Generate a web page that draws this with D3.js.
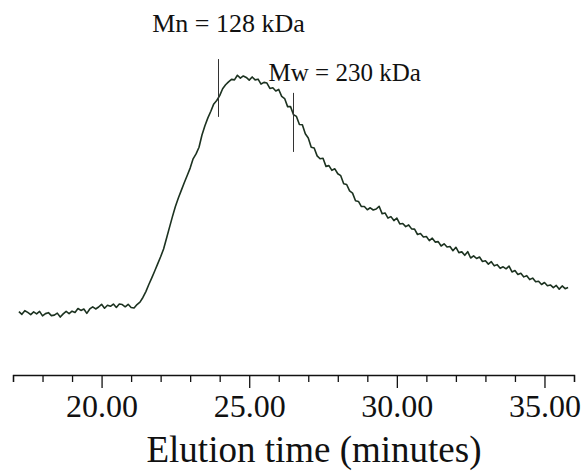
<!DOCTYPE html>
<html>
<head>
<meta charset="utf-8">
<script src="https://cdn.jsdelivr.net/npm/d3@7"></script>
<style>
  body { margin: 0; background: #fff; }
  svg { display: block; }
  text { font-family: "Liberation Serif", "DejaVu Serif", serif; fill: #111; }
</style>
</head>
<body>
<div id="container"></div>
<script>
// elution time (minutes), one reading every 0.1 min
let elutionTime = [
  17.2, 17.3, 17.4, 17.5, 17.6, 17.7, 17.8, 17.9, 18.0, 18.1, 18.2, 18.3, 18.4, 18.5, 18.6, 18.7, 18.8, 18.9,
  19.0, 19.1, 19.2, 19.3, 19.4, 19.5, 19.6, 19.7, 19.8, 19.9, 20.0, 20.1, 20.2, 20.3, 20.4, 20.5, 20.6, 20.7, 20.8, 20.9,
  21.0, 21.1, 21.2, 21.3, 21.4, 21.5, 21.6, 21.7, 21.8, 21.9, 22.0, 22.1, 22.2, 22.3, 22.4, 22.5, 22.6, 22.7, 22.8, 22.9,
  23.0, 23.1, 23.2, 23.3, 23.4, 23.5, 23.6, 23.7, 23.8, 23.9, 24.0, 24.1, 24.2, 24.3, 24.4, 24.5, 24.6, 24.7, 24.8, 24.9,
  25.0, 25.1, 25.2, 25.3, 25.4, 25.5, 25.6, 25.7, 25.8, 25.9, 26.0, 26.1, 26.2, 26.3, 26.4, 26.5, 26.6, 26.7, 26.8, 26.9,
  27.0, 27.1, 27.2, 27.3, 27.4, 27.5, 27.6, 27.7, 27.8, 27.9, 28.0, 28.1, 28.2, 28.3, 28.4, 28.5, 28.6, 28.7, 28.8, 28.9,
  29.0, 29.1, 29.2, 29.3, 29.4, 29.5, 29.6, 29.7, 29.8, 29.9, 30.0, 30.1, 30.2, 30.3, 30.4, 30.5, 30.6, 30.7, 30.8, 30.9,
  31.0, 31.1, 31.2, 31.3, 31.4, 31.5, 31.6, 31.7, 31.8, 31.9, 32.0, 32.1, 32.2, 32.3, 32.4, 32.5, 32.6, 32.7, 32.8, 32.9,
  33.0, 33.1, 33.2, 33.3, 33.4, 33.5, 33.6, 33.7, 33.8, 33.9, 34.0, 34.1, 34.2, 34.3, 34.4, 34.5, 34.6, 34.7, 34.8, 34.9,
  35.0, 35.1, 35.2, 35.3, 35.4, 35.5, 35.6, 35.7, 35.8
];

// detector response (relative, peak ~100)
let response = [
  3.4, 2.3, 3.8, 3.1, 2.2, 3.3, 2.5, 3.5, 1.7, 2.6, 3.0, 1.8, 2.0, 2.8, 1.2, 2.5, 3.5, 2.6,
  3.6, 3.1, 4.7, 3.9, 4.5, 2.7, 4.5, 5.4, 4.5, 5.3, 6.4, 4.8, 6.0, 5.6, 6.5, 5.1, 6.5, 6.3, 5.4, 6.4,
  5.1, 4.9, 6.3, 7.3, 9.2, 11.6, 14.5, 17.2, 20.0, 22.9, 25.8, 29.0, 33.4, 37.8, 42.2, 46.3, 49.8, 52.9, 56.0, 59.0,
  62.0, 65.8, 67.8, 70.5, 75.5, 79.3, 82.5, 85.2, 88.2, 89.6, 91.6, 94.4, 96.0, 97.2, 98.2, 98.0, 99.9, 98.7, 99.6, 99.0,
  97.9, 99.2, 98.0, 98.3, 96.3, 97.0, 96.7, 94.5, 94.8, 93.5, 94.1, 91.3, 90.4, 87.1, 87.1, 83.8, 83.1, 79.8, 79.7, 76.0,
  74.3, 70.5, 70.2, 67.0, 65.8, 66.0, 62.7, 63.0, 61.1, 61.7, 59.7, 58.9, 55.6, 55.3, 52.7, 51.8, 48.7, 48.4, 46.3, 46.3,
  45.0, 45.8, 44.9, 45.3, 46.4, 43.4, 43.7, 41.6, 42.2, 40.6, 41.6, 39.2, 39.4, 38.1, 38.8, 37.2, 37.1, 34.9, 35.3, 33.9,
  34.1, 32.4, 33.4, 31.8, 32.0, 30.2, 31.1, 29.8, 30.0, 28.3, 29.7, 27.5, 27.8, 26.4, 27.9, 25.3, 26.2, 25.1, 25.7, 23.9,
  24.2, 22.8, 23.8, 22.1, 22.6, 21.1, 21.7, 20.9, 22.0, 19.6, 20.2, 18.6, 19.1, 17.6, 18.1, 16.5, 17.1, 15.6, 15.8, 14.5,
  15.3, 14.0, 14.3, 13.2, 14.1, 12.6, 13.9, 12.8, 13.3
];

let majorTicks = [20, 25, 30, 35];
let minorTicks = [17, 18, 19, 21, 22, 23, 24, 26, 27, 28, 29, 31, 32, 33, 34, 36];

let markerLabels = ["Mn = 128 kDa", "Mw = 230 kDa"];
let markerTimes = [23.96, 26.5];

let w = 584;
let h = 472;

let viz = d3.select("#container")
  .append("svg")
    .attr("width", w)
    .attr("height", h)
;

let xScale = d3.scaleLinear().domain([17, 36]).range([13, 574]);
let yScale = d3.scaleLinear().domain([0, 100]).range([320, 75]);
let axisY = 375;

let data = elutionTime.map(function(t, i){
  return { time: t, value: response[i] };
});

// minor ticks first, then majors with labels
let minorAxis = d3.axisBottom(xScale)
  .tickValues(minorTicks)
  .tickSize(7)
  .tickSizeOuter(7)
  .tickFormat("")
;
let minorGroup = viz.append("g")
    .attr("transform", "translate(0," + axisY + ")")
    .call(minorAxis)
;

let majorAxis = d3.axisBottom(xScale)
  .tickValues(majorTicks)
  .tickSize(13)
  .tickSizeOuter(0)
  .tickFormat(d3.format(".2f"))
;
let majorGroup = viz.append("g")
    .attr("transform", "translate(0," + axisY + ")")
    .call(majorAxis)
;
majorGroup.select(".domain").remove();

viz.selectAll(".domain, .tick line")
  .attr("stroke", "#111")
  .attr("stroke-width", 1.3)
;
majorGroup.selectAll(".tick text")
  .attr("y", 42)
  .attr("dy", 0)
  .style("font-family", "'Liberation Serif', serif")
  .style("font-size", "32px")
  .attr("fill", "#111")
;

viz.append("text")
  .attr("x", 314)
  .attr("y", 462)
  .attr("text-anchor", "middle")
  .style("font-size", "37px")
  .text("Elution time (minutes)")
;

// the trace
let lineMaker = d3.line()
  .x(function(d){ return xScale(d.time); })
  .y(function(d){ return yScale(d.value); })
;
viz.append("path")
  .datum(data)
  .attr("d", lineMaker)
  .attr("fill", "none")
  .attr("stroke", "#1c3220")
  .attr("stroke-width", 1.6)
  .attr("stroke-linejoin", "round")
;

// Mn and Mw markers
let lineTops = [106.5, 92.7];
let lineBottoms = [82.9, 68.6];
markerTimes.forEach(function(t, i){
  viz.append("line")
    .attr("x1", xScale(t))
    .attr("x2", xScale(t))
    .attr("y1", yScale(lineTops[i]))
    .attr("y2", yScale(lineBottoms[i]))
    .attr("stroke", "#333")
    .attr("stroke-width", 1)
  ;
});

viz.append("text")
  .attr("x", xScale(markerTimes[0]) + 10)
  .attr("y", 32)
  .attr("text-anchor", "middle")
  .style("font-size", "26px")
  .text(markerLabels[0])
;
viz.append("text")
  .attr("x", xScale(markerTimes[1]) - 25)
  .attr("y", 81)
  .style("font-size", "25px")
  .text(markerLabels[1])
;
</script>
</body>
</html>
